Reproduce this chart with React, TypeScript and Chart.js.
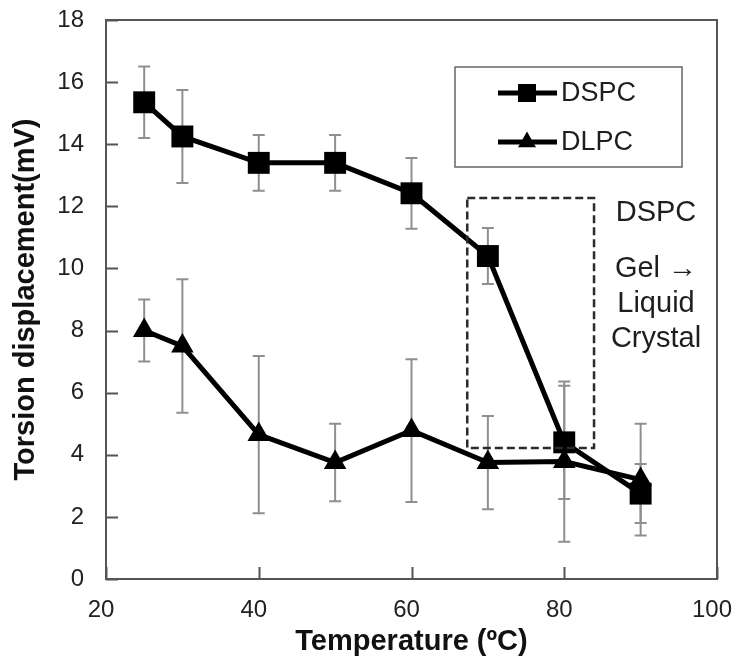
import React, { useEffect, useRef } from "react";
import { Chart, registerables } from "chart.js";

Chart.register(...registerables);

// ---- data ----
const temperatures = [25, 30, 40, 50, 60, 70, 80, 90];
const dspcValues = [15.35, 14.25, 13.4, 13.4, 12.42, 10.4, 4.4, 2.75];
const dspcErrors = [1.15, 1.5, 0.9, 0.9, 1.14, 0.9, 1.82, 0.95];
const dlpcValues = [8.0, 7.5, 4.65, 3.75, 4.78, 3.75, 3.78, 3.2];
const dlpcErrors = [1.0, 2.15, 2.53, 1.25, 2.3, 1.5, 2.58, 1.8];
const seriesNames = ["DSPC", "DLPC"];
const xTickValues = [20, 40, 60, 80, 100];
const yTickValues = [0, 2, 4, 6, 8, 10, 12, 14, 16, 18];
const xTitle = "Temperature (ºC)";
const yTitle = "Torsion displacement(mV)";
const annotationLines = ["DSPC", "Gel →", "Liquid", "Crystal"];
// transition region (x from..to, y from..to) in data units
const transitionX = [67.3, 83.9];
const transitionY = [4.22, 12.27];

const FONT = "'Liberation Sans', Arial, Helvetica, sans-serif";
const FRAME = "#555555";

const errorBarPlugin = {
  id: "errorBars",
  beforeDatasetsDraw(chart: any) {
    const { ctx } = chart;
    const xs = chart.scales.x;
    const ys = chart.scales.y;
    ctx.save();
    ctx.strokeStyle = "#8f8f8f";
    ctx.lineWidth = 2;
    chart.data.datasets.forEach((ds: any) => {
      ds.data.forEach((pt: any, i: number) => {
        const e = ds.errors[i];
        const px = xs.getPixelForValue(pt.x);
        const top = ys.getPixelForValue(pt.y + e);
        const bot = ys.getPixelForValue(pt.y - e);
        ctx.beginPath();
        ctx.moveTo(px, top);
        ctx.lineTo(px, bot);
        ctx.moveTo(px - 6, top);
        ctx.lineTo(px + 6, top);
        ctx.moveTo(px - 6, bot);
        ctx.lineTo(px + 6, bot);
        ctx.stroke();
      });
    });
    ctx.restore();
  },
};

const framePlugin = {
  id: "frame",
  beforeDatasetsDraw(chart: any) {
    const { ctx, chartArea: a } = chart;
    const xs = chart.scales.x;
    const ys = chart.scales.y;
    ctx.save();
    ctx.strokeStyle = FRAME;
    ctx.lineWidth = 2;
    ctx.strokeRect(a.left, a.top, a.right - a.left, a.bottom - a.top);
    ctx.beginPath();
    yTickValues.forEach((v) => {
      const py = Math.round(ys.getPixelForValue(v)) + 0.5;
      ctx.moveTo(a.left, py);
      ctx.lineTo(a.left + 12, py);
    });
    xTickValues.forEach((v) => {
      const px = Math.round(xs.getPixelForValue(v)) + 0.5;
      ctx.moveTo(px, a.bottom);
      ctx.lineTo(px, a.bottom - 12);
    });
    ctx.stroke();
    ctx.restore();
  },
};

function drawMarker(ctx: any, style: string, x: number, y: number, size: number) {
  ctx.beginPath();
  if (style === "rect") {
    ctx.rect(x - size / 2, y - size / 2, size, size);
  } else {
    const r = size / Math.sqrt(3);
    ctx.moveTo(x, y - r);
    ctx.lineTo(x + size / 2, y + r / 2);
    ctx.lineTo(x - size / 2, y + r / 2);
    ctx.closePath();
  }
  ctx.fill();
}

const annotationPlugin = {
  id: "annotations",
  afterDatasetsDraw(chart: any) {
    const { ctx, chartArea: a } = chart;
    const xs = chart.scales.x;
    const ys = chart.scales.y;
    ctx.save();
    // dashed transition box
    const x0 = xs.getPixelForValue(transitionX[0]);
    const x1 = xs.getPixelForValue(transitionX[1]);
    const y0 = ys.getPixelForValue(transitionY[1]);
    const y1 = ys.getPixelForValue(transitionY[0]);
    ctx.setLineDash([8, 4]);
    ctx.strokeStyle = "#2a2a2a";
    ctx.lineWidth = 2.5;
    ctx.strokeRect(x0, y0, x1 - x0, y1 - y0);
    ctx.setLineDash([]);

    // annotation text
    ctx.fillStyle = "#1e1e1e";
    ctx.font = `29px ${FONT}`;
    ctx.textAlign = "center";
    ctx.textBaseline = "middle";
    const tx = a.right - 61;
    const tys = [a.top + 193, a.top + 249, a.top + 284, a.top + 319];
    annotationLines.forEach((t, i) => ctx.fillText(t, tx, tys[i]));

    // legend box
    const lx = a.right - 262;
    const ly = a.top + 47;
    ctx.strokeStyle = "#666666";
    ctx.lineWidth = 1.5;
    ctx.strokeRect(lx, ly, 227, 100);
    const rows = [ly + 26, ly + 75];
    chart.data.datasets.forEach((ds: any, i: number) => {
      const ry = rows[i];
      ctx.strokeStyle = ds.borderColor;
      ctx.lineWidth = 5;
      ctx.beginPath();
      ctx.moveTo(lx + 43, ry);
      ctx.lineTo(lx + 102, ry);
      ctx.stroke();
      ctx.fillStyle = ds.backgroundColor;
      drawMarker(ctx, ds.pointStyle, lx + 72, ry, 18);
      ctx.fillStyle = "#1e1e1e";
      ctx.font = `27px ${FONT}`;
      ctx.textAlign = "left";
      ctx.textBaseline = "middle";
      ctx.fillText(seriesNames[i], lx + 106, ry + 1);
    });
    ctx.restore();
  },
};

export default function App() {
  const ref = useRef<HTMLCanvasElement | null>(null);

  useEffect(() => {
    if (!ref.current) return;
    const toPoints = (vals: number[]) => temperatures.map((t, i) => ({ x: t, y: vals[i] }));
    const chart = new Chart(ref.current, {
      type: "line",
      data: {
        datasets: [
          {
            label: seriesNames[0],
            data: toPoints(dspcValues),
            errors: dspcErrors,
            borderColor: "#000000",
            backgroundColor: "#000000",
            borderWidth: 5,
            pointStyle: "rect",
            pointRadius: 15.5,
            pointHoverRadius: 15.5,
            pointBorderWidth: 0,
            tension: 0,
          } as any,
          {
            label: seriesNames[1],
            data: toPoints(dlpcValues),
            errors: dlpcErrors,
            borderColor: "#000000",
            backgroundColor: "#000000",
            borderWidth: 5,
            pointStyle: "triangle",
            pointRadius: 13,
            pointHoverRadius: 13,
            pointBorderWidth: 0,
            tension: 0,
          } as any,
        ],
      },
      options: {
        animation: false,
        responsive: false,
        maintainAspectRatio: false,
        devicePixelRatio: 1,
        layout: { padding: { left: 0, top: 20, right: 17, bottom: 0 } },
        plugins: {
          legend: { display: false },
          tooltip: { enabled: false },
        },
        events: [],
        scales: {
          x: {
            type: "linear",
            min: 20,
            max: 100,
            afterBuildTicks: (s: any) => {
              s.ticks = xTickValues.map((v) => ({ value: v }));
            },
            afterFit: (s: any) => {
              s.height = 80;
              s.paddingLeft = 0;
              s.paddingRight = 0;
            },
            grid: { display: false, drawTicks: false },
            border: { display: false },
            ticks: {
              padding: 17,
              labelOffset: -5,
              maxRotation: 0,
              autoSkip: false,
              color: "#222222",
              font: { family: FONT, size: 24 },
            },
            title: {
              display: true,
              text: xTitle,
              color: "#111111",
              font: { family: FONT, size: 29, weight: "bold" },
              padding: { top: 0, bottom: 0 },
            },
          },
          y: {
            type: "linear",
            min: 0,
            max: 18,
            afterBuildTicks: (s: any) => {
              s.ticks = yTickValues.map((v) => ({ value: v }));
            },
            afterFit: (s: any) => {
              s.width = 106;
              s.paddingTop = 0;
              s.paddingBottom = 0;
            },
            grid: { display: false, drawTicks: false },
            border: { display: false },
            ticks: {
              padding: 22,
              autoSkip: false,
              color: "#222222",
              font: { family: FONT, size: 24 },
            },
            title: {
              display: true,
              text: yTitle,
              color: "#111111",
              font: { family: FONT, size: 29, weight: "bold" },
              padding: { top: 9, bottom: 0 },
            },
          },
        },
      } as any,
      plugins: [framePlugin, errorBarPlugin, annotationPlugin],
    });
    return () => chart.destroy();
  }, []);

  return (
    <div style={{ position: "fixed", left: 0, top: 0, width: 734, height: 659, background: "#ffffff" }}>
      <canvas ref={ref} width={734} height={659} style={{ width: 734, height: 659, display: "block" }} />
    </div>
  );
}
